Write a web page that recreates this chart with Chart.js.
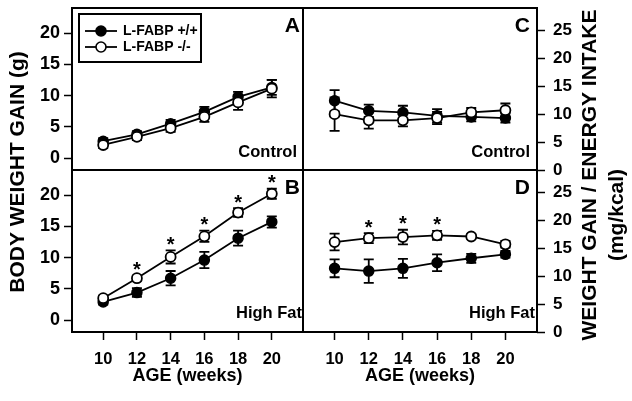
<!DOCTYPE html>
<html><head><meta charset="utf-8">
<script src="https://cdn.jsdelivr.net/npm/chart.js@4.4.1/dist/chart.umd.min.js"></script>
<style>
html,body{margin:0;padding:0;background:#fff;}
#wrap{position:relative;width:632px;height:401px;overflow:hidden;}
#wrap canvas{position:absolute;left:0;top:0;}
</style></head><body>
<div id="wrap">
<canvas id="cA" width="632" height="401"></canvas>
<canvas id="cB" width="632" height="401"></canvas>
<canvas id="cC" width="632" height="401"></canvas>
<canvas id="cD" width="632" height="401"></canvas>
</div>
<script>
// ---- data ----
const weeks = [10, 12, 14, 16, 18, 20];
const xTicks = [10, 12, 14, 16, 18, 20];
const bwTicks = [0, 5, 10, 15, 20];
const effTicks = [0, 5, 10, 15, 20, 25];
const seriesNames = ['L-FABP +/+', 'L-FABP -/-'];

// A: body weight gain, control diet
const ctrlBwWT = [2.7, 3.8, 5.5, 7.4, 9.8, 11.3];
const ctrlBwWTErr = [0.5, 0.5, 0.6, 0.8, 0.8, 1.2];
const ctrlBwKO = [2.1, 3.4, 4.8, 6.6, 8.9, 11.1];
const ctrlBwKOErr = [0.5, 0.5, 0.6, 0.8, 1.2, 1.4];
// B: body weight gain, high fat diet
const hfBwWT = [2.9, 4.4, 6.7, 9.6, 13.1, 15.7];
const hfBwWTErr = [0.4, 0.7, 1.15, 1.3, 1.2, 0.9];
const hfBwKO = [3.5, 6.7, 10.1, 13.4, 17.2, 20.2];
const hfBwKOErr = [0.4, 0.4, 1.05, 0.9, 0.7, 0.8];
const hfBwStars = [false, true, true, true, true, true];
// C: weight gain / energy intake, control diet
const ctrlEffWT = [12.4, 10.6, 10.3, 9.7, 9.5, 9.3];
const ctrlEffWTErr = [1.9, 1.1, 1.2, 1.2, 0.8, 0.8];
const ctrlEffKO = [10.0, 8.9, 8.9, 9.3, 10.3, 10.7];
const ctrlEffKOErr = [3.0, 1.5, 1.1, 1.1, 0.8, 1.2];
// D: weight gain / energy intake, high fat diet
const hfEffWT = [11.4, 10.9, 11.4, 12.4, 13.2, 13.9];
const hfEffWTErr = [1.6, 2.1, 1.7, 1.5, 0.8, 0.6];
const hfEffKO = [16.1, 16.8, 17.0, 17.3, 17.1, 15.7];
const hfEffKOErr = [1.5, 0.9, 1.3, 0.8, 0.4, 0.6];
const hfEffStars = [false, true, true, true, false, false];

const FONT = '"Liberation Sans", Arial, Helvetica, sans-serif';
const LW = 1.8;

function makePanel(id, p) {
  const left = p.side === 'left';
  const decor = {
    id: 'decor_' + id,
    beforeDatasetsDraw(chart) {
      const ctx = chart.ctx, ys = chart.scales.y;
      ctx.save();
      ctx.strokeStyle = '#000'; ctx.lineWidth = LW;
      chart.data.datasets.forEach((ds, di) => {
        const meta = chart.getDatasetMeta(di);
        ds.err.forEach((e, i) => {
          const pt = meta.data[i]; const v = ds.data[i].y;
          const y1 = ys.getPixelForValue(v + e), y2 = ys.getPixelForValue(v - e);
          ctx.beginPath();
          ctx.moveTo(pt.x, y1); ctx.lineTo(pt.x, y2);
          ctx.moveTo(pt.x - 5, y1); ctx.lineTo(pt.x + 5, y1);
          ctx.moveTo(pt.x - 5, y2); ctx.lineTo(pt.x + 5, y2);
          ctx.stroke();
        });
      });
      ctx.restore();
    },
    afterDraw(chart) {
      const ctx = chart.ctx, ca = chart.chartArea, ys = chart.scales.y;
      ctx.save();
      // frame
      ctx.strokeStyle = '#000'; ctx.lineWidth = 2;
      ctx.strokeRect(ca.left, ca.top, ca.right - ca.left, ca.bottom - ca.top);
      ctx.fillStyle = '#000';
      // panel letter
      ctx.font = 'bold 21px ' + FONT;
      ctx.textAlign = 'right'; ctx.textBaseline = 'alphabetic';
      ctx.fillText(p.letter, ca.right - p.letterInset, ca.top + 24);
      // diet label
      ctx.font = 'bold 16.5px ' + FONT;
      ctx.fillText(p.diet, ca.right - p.dietInset, ca.bottom - p.dietBottom);
      // significance stars
      if (p.stars) {
        const meta = chart.getDatasetMeta(1); const ds = chart.data.datasets[1];
        ctx.font = 'bold 20px ' + FONT; ctx.textAlign = 'center';
        p.stars.forEach((s, i) => {
          if (!s) return;
          const yTop = ys.getPixelForValue(ds.data[i].y + ds.err[i]);
          ctx.fillText('*', meta.data[i].x, yTop - 11 + 11.6);
        });
      }
      // legend
      if (p.legend) {
        ctx.lineWidth = 2;
        ctx.strokeRect(79, 14, 122, 48);
        const rows = [31, 47];
        chart.data.datasets.forEach((ds, di) => {
          const y = rows[di];
          ctx.lineWidth = LW; ctx.strokeStyle = '#000';
          ctx.beginPath(); ctx.moveTo(85, y); ctx.lineTo(117, y); ctx.stroke();
          ctx.beginPath(); ctx.arc(101, y, 5, 0, Math.PI * 2);
          ctx.fillStyle = ds.pointBackgroundColor; ctx.fill();
          ctx.lineWidth = 1.6; ctx.stroke();
          ctx.fillStyle = '#000';
          ctx.font = 'bold 14px ' + FONT; ctx.textAlign = 'left'; ctx.textBaseline = 'middle';
          ctx.fillText(ds.label, 123, y + 0.5);
        });
      }
      // axis titles
      if (p.titles) {
        p.titles.forEach(t => {
          ctx.save();
          ctx.translate(t.x, t.y); ctx.rotate(-Math.PI / 2);
          ctx.font = 'bold ' + t.size + 'px ' + FONT;
          ctx.textAlign = 'center'; ctx.textBaseline = 'middle'; ctx.fillStyle = '#000';
          ctx.fillText(t.text, 0, 0);
          ctx.restore();
        });
      }
      ctx.restore();
    }
  };
  const yT = p.yTicks;
  return new Chart(document.getElementById(id), {
    type: 'line',
    data: {
      datasets: [
        { label: seriesNames[0], data: weeks.map((w, i) => ({ x: w, y: p.wt[i] })), err: p.wtErr,
          borderColor: '#000', borderWidth: LW, pointRadius: 5, pointBackgroundColor: '#000',
          pointBorderColor: '#000', pointBorderWidth: 1.5, order: 2, clip: false },
        { label: seriesNames[1], data: weeks.map((w, i) => ({ x: w, y: p.ko[i] })), err: p.koErr,
          borderColor: '#000', borderWidth: LW, pointRadius: 5, pointBackgroundColor: '#fff',
          pointBorderColor: '#000', pointBorderWidth: 1.8, order: 1, clip: false }
      ]
    },
    options: {
      responsive: false, animation: false, devicePixelRatio: 1,
      layout: { padding: p.pad },
      plugins: { legend: { display: false }, tooltip: { enabled: false } },
      scales: {
        x: {
          type: 'linear', min: 8.15, max: 21.85, display: p.showX,
          afterFit: s => { s.height = p.showX ? 69 : 0; s.paddingLeft = 0; s.paddingRight = 0; },
          afterBuildTicks: s => { s.ticks = xTicks.map(v => ({ value: v })); },
          grid: { drawOnChartArea: false, tickLength: 8, tickWidth: 1.5, tickColor: '#000' },
          border: { display: false },
          ticks: { color: '#000', font: { family: FONT, weight: 'bold', size: 16.5 }, padding: 10, maxRotation: 0, autoSkip: false },
          title: { display: true, text: 'AGE (weeks)', color: '#000', font: { family: FONT, weight: 'bold', size: 18 }, padding: { top: 0, bottom: 14 } }
        },
        y: {
          type: 'linear', position: left ? 'left' : 'right', min: p.yMin, max: p.yMax,
          afterFit: s => { s.width = left ? 72 : 95; s.paddingTop = 0; s.paddingBottom = 0; },
          afterBuildTicks: s => { s.ticks = yT.map(v => ({ value: v })); },
          grid: { drawOnChartArea: false, tickLength: 8, tickWidth: 1.5, tickColor: '#000' },
          border: { display: false },
          ticks: { color: '#000', font: { family: FONT, weight: 'bold', size: left ? 18 : 17 }, padding: left ? 4 : 8, autoSkip: false }
        }
      }
    },
    plugins: [decor]
  });
}

makePanel('cA', {
  side: 'left', pad: { left: 0, top: 8, right: 329, bottom: 231 }, showX: false,
  yMin: -1.9, yMax: 24, yTicks: bwTicks,
  wt: ctrlBwWT, wtErr: ctrlBwWTErr, ko: ctrlBwKO, koErr: ctrlBwKOErr,
  letter: 'A', letterInset: 3, diet: 'Control', dietInset: 6, dietBottom: 13, legend: true,
  titles: [{ text: 'BODY WEIGHT GAIN (g)', x: 18, y: 172, size: 21 }]
});
makePanel('cB', {
  side: 'left', pad: { left: 0, top: 170, right: 329, bottom: 0 }, showX: true,
  yMin: -1.9, yMax: 24, yTicks: bwTicks,
  wt: hfBwWT, wtErr: hfBwWTErr, ko: hfBwKO, koErr: hfBwKOErr, stars: hfBwStars,
  letter: 'B', letterInset: 3, diet: 'High Fat', dietInset: 1, dietBottom: 14
});
makePanel('cC', {
  side: 'right', pad: { left: 303, top: 8, right: 0, bottom: 231 }, showX: false,
  yMin: 0, yMax: 29, yTicks: effTicks,
  wt: ctrlEffWT, wtErr: ctrlEffWTErr, ko: ctrlEffKO, koErr: ctrlEffKOErr,
  letter: 'C', letterInset: 7, diet: 'Control', dietInset: 7, dietBottom: 13,
  titles: [{ text: 'WEIGHT GAIN / ENERGY INTAKE', x: 590, y: 175, size: 21 },
           { text: '(mg/kcal)', x: 617, y: 215, size: 21 }]
});
makePanel('cD', {
  side: 'right', pad: { left: 303, top: 170, right: 0, bottom: 0 }, showX: true,
  yMin: 0, yMax: 29, yTicks: effTicks,
  wt: hfEffWT, wtErr: hfEffWTErr, ko: hfEffKO, koErr: hfEffKOErr, stars: hfEffStars,
  letter: 'D', letterInset: 7, diet: 'High Fat', dietInset: 2, dietBottom: 14
});
</script>
</body></html>
